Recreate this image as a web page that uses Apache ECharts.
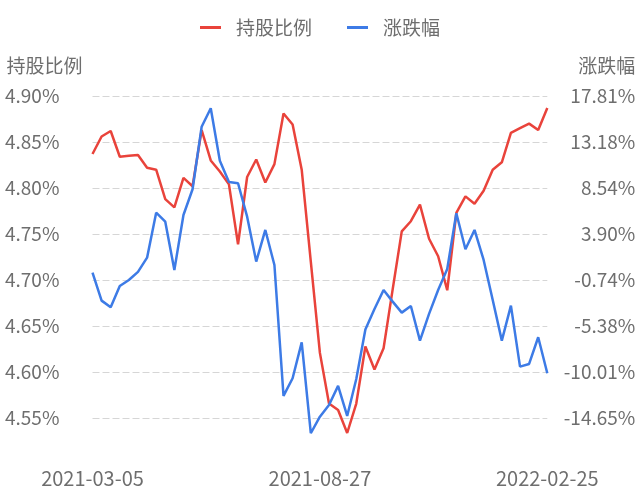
<!DOCTYPE html>
<html>
<head>
<meta charset="utf-8">
<script src="https://cdn.jsdelivr.net/npm/echarts@6/dist/echarts.min.js"></script>
<style>html,body{margin:0;padding:0;background:#fff;}#c{width:640px;height:493px;}</style>
</head>
<body>
<div id="c"></div>
<script>
var dates = ['2021-03-05','2021-03-12','2021-03-19','2021-03-26','2021-04-02','2021-04-09','2021-04-16','2021-04-23','2021-04-30','2021-05-07',
'2021-05-14','2021-05-21','2021-05-28','2021-06-04','2021-06-11','2021-06-18','2021-06-25','2021-07-02','2021-07-09','2021-07-16',
'2021-07-23','2021-07-30','2021-08-06','2021-08-13','2021-08-20','2021-08-27','2021-09-03','2021-09-10','2021-09-17','2021-09-24',
'2021-09-30','2021-10-08','2021-10-15','2021-10-22','2021-10-29','2021-11-05','2021-11-12','2021-11-19','2021-11-26','2021-12-03',
'2021-12-10','2021-12-17','2021-12-24','2021-12-31','2022-01-07','2022-01-14','2022-01-21','2022-01-28','2022-02-11','2022-02-18','2022-02-25'];

var holdRatio = [4.837,4.856,4.862,4.834,4.835,4.836,4.822,4.820,4.788,4.779,
4.811,4.802,4.863,4.830,4.818,4.804,4.739,4.812,4.831,4.806,
4.826,4.881,4.869,4.820,4.720,4.621,4.566,4.559,4.534,4.566,
4.628,4.603,4.626,4.690,4.753,4.764,4.782,4.745,4.726,4.689,
4.773,4.791,4.783,4.797,4.820,4.828,4.860,4.865,4.870,4.863,4.887];

var change = [0.02,-2.80,-3.47,-1.32,-0.72,0.10,1.53,6.06,5.15,0.29,
5.83,8.42,14.72,16.58,11.30,9.15,9.02,5.66,1.13,4.32,
0.79,-12.40,-10.62,-7.01,-16.16,-14.49,-13.31,-11.39,-14.42,-10.69,
-5.70,-3.64,-1.73,-2.90,-4.01,-3.34,-6.83,-4.14,-1.73,0.39,
6.00,2.37,4.32,1.30,-2.73,-6.83,-3.31,-9.45,-9.18,-6.49,-10.12];

var seriesNames = ['持股比例', '涨跌幅'];
var leftMin = 4.50, leftMax = 4.90, leftStep = 0.05;
var rightMin = -19.2895, rightMax = 17.8145, rightStep = 4.638;

var FONT = "'Noto Sans CJK SC', 'Noto Sans', sans-serif";
var GRAY = '#6e6e6e';
var RED = '#e9433b';
var BLUE = '#3d7be6';

var chart = echarts.init(document.getElementById('c'), null, {renderer: 'canvas'});
var splitColors = ['rgba(0,0,0,0)'];
for (var k = 0; k < 8; k++) splitColors.push('#d6d6d6');

chart.setOption({
  animation: false,
  backgroundColor: '#fff',
  textStyle: {fontFamily: FONT},
  legend: {
    top: 13,
    left: 'center',
    icon: 'rect',
    itemWidth: 21,
    itemHeight: 3,
    itemGap: 35,
    textStyle: {fontSize: 19, color: GRAY, fontFamily: FONT, padding: [0, 0, 0, 10]},
    data: [{name: seriesNames[0], itemStyle: {color: RED}}, {name: seriesNames[1], itemStyle: {color: BLUE}}]
  },
  grid: {left: 92.5, right: 92.7, top: 96, bottom: 28.7, containLabel: false, outerBoundsMode: 'none'},
  xAxis: {
    type: 'category',
    data: dates,
    boundaryGap: false,
    axisLine: {show: false},
    axisTick: {show: false},
    axisLabel: {interval: 24, fontSize: 20, color: GRAY, fontFamily: FONT, margin: 4}
  },
  yAxis: [{
    type: 'value',
    name: seriesNames[0],
    nameLocation: 'end',
    nameGap: 21,
    nameTextStyle: {fontSize: 19, color: GRAY, fontFamily: FONT, align: 'right', padding: [0, 10, 0, 0]},
    min: leftMin, max: leftMax, interval: leftStep,
    axisLine: {show: false},
    axisTick: {show: false},
    axisLabel: {showMinLabel: false, align: 'left', margin: 87.5, fontSize: 19, color: GRAY, fontFamily: FONT,
      formatter: function (v) { return v.toFixed(2) + '%'; }},
    splitLine: {show: true, lineStyle: {color: splitColors, type: [7, 3], width: 1}}
  }, {
    type: 'value',
    name: seriesNames[1],
    nameLocation: 'end',
    nameGap: 21,
    nameTextStyle: {fontSize: 19, color: GRAY, fontFamily: FONT, align: 'left', padding: [0, 0, 0, 31]},
    min: rightMin, max: rightMax, interval: rightStep,
    axisLine: {show: false},
    axisTick: {show: false},
    axisLabel: {showMinLabel: false, align: 'right', margin: 88, fontSize: 19, color: GRAY, fontFamily: FONT,
      formatter: function (v) { return v.toFixed(2) + '%'; }},
    splitLine: {show: false}
  }],
  series: [{
    name: seriesNames[0],
    type: 'line',
    yAxisIndex: 0,
    data: holdRatio,
    symbol: 'none',
    lineStyle: {color: RED, width: 2.5},
    itemStyle: {color: RED}
  }, {
    name: seriesNames[1],
    type: 'line',
    yAxisIndex: 1,
    data: change,
    symbol: 'none',
    lineStyle: {color: BLUE, width: 2.5},
    itemStyle: {color: BLUE}
  }]
});
</script>
</body>
</html>
